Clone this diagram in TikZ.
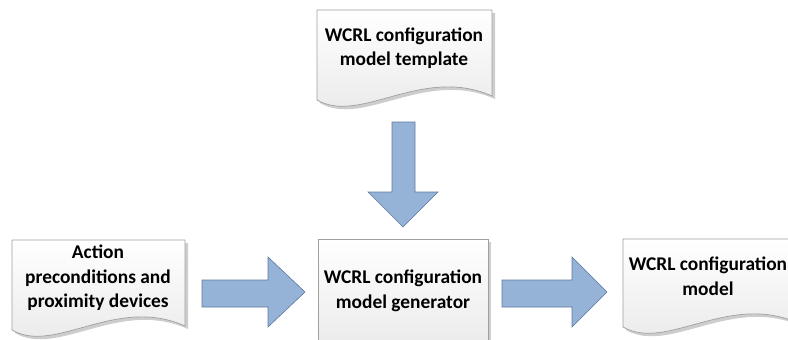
\documentclass[tikz,border=0pt]{standalone}
\usepackage{fontspec}
\setmainfont{Carlito}
\definecolor{arrowfill}{RGB}{149,179,215}
\definecolor{arrowline}{RGB}{96,120,160}
\definecolor{docline}{RGB}{160,160,160}
\definecolor{shadowc}{RGB}{205,205,205}
\tikzset{
  docfill/.style={top color=white, bottom color=black!9, draw=docline, line width=0.7pt},
  shadowfill/.style={fill=shadowc},
  barrow/.style={fill=arrowfill, draw=arrowline, line width=0.6pt, line join=miter},
  label/.style={font=\fontsize{19.4}{24.5}\selectfont\bfseries, align=center, text=black, inner sep=0pt}
}
\newcommand{\docpath}[4]{(#1,#2) -- (#1+#3,#2) -- (#1+#3,#2+#4-4) .. controls (#1+0.6*#3,#2+#4-35) and (#1+0.25*#3,#2+#4+25) .. (#1,#2+#4) -- cycle}
\begin{document}
\begin{tikzpicture}[x=1pt,y=-1pt]
\useasboundingbox (0,0) rectangle (788,340);
\clip (0,0) rectangle (788,340);
% shadows
\fill[shadowfill] \docpath{320}{13}{175}{90};
\fill[shadowfill] \docpath{15}{243}{173}{90};
\fill[shadowfill] \docpath{626}{242}{175}{88};
\fill[shadowfill] (321,242) rectangle (491,360);
% shapes
\path[docfill] \docpath{317}{10}{175}{90};
\path[docfill] \docpath{12}{240}{173}{90};
\path[docfill] \docpath{623}{239}{175}{88};
\path[docfill] (318,239) rectangle (488,360);
% texts
\node[label] (tmpl) at (404,48) {WCRL configuration\\model template};
\node[label] (gen) at (403,291) {WCRL configuration\\model generator};
\node[label] (act) at (98,278) {Action\\preconditions and\\proximity devices};
\node[label] (out) at (708,276) {WCRL configuration\\model};
% block arrows
\draw[barrow] (392,122) -- (415,122) -- (415,192) -- (438,192) -- (403,227) -- (368,192) -- (392,192) -- cycle;
\draw[barrow] (202,280) -- (268,280) -- (268,257) -- (305,292) -- (268,327) -- (268,307) -- (202,307) -- cycle;
\draw[barrow] (502,280) -- (572,280) -- (572,257) -- (607,292) -- (572,327) -- (572,307) -- (502,307) -- cycle;
\end{tikzpicture}
\end{document}
